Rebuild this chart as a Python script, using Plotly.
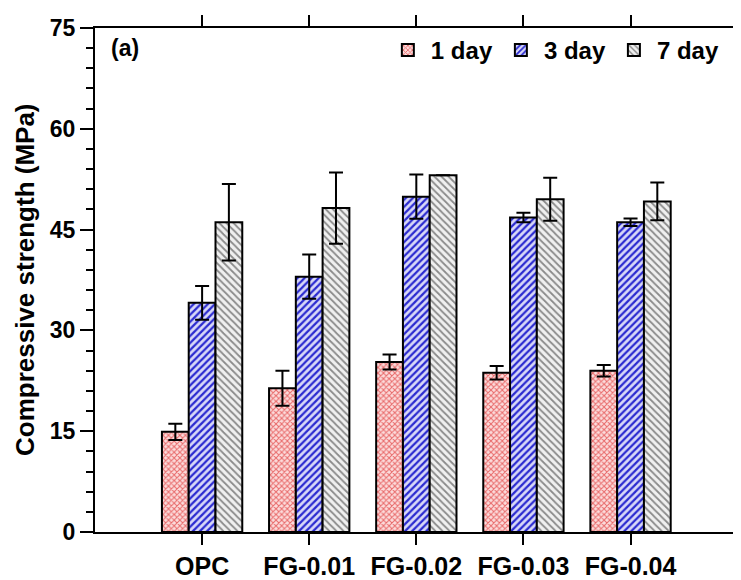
import plotly.graph_objects as go

categories = ["OPC", "FG-0.01", "FG-0.02", "FG-0.03", "FG-0.04"]
day1 = [14.9, 21.4, 25.3, 23.7, 24.0]
day1_err = [1.2, 2.6, 1.1, 1.0, 0.85]
day3 = [34.1, 38.0, 49.9, 46.8, 46.1]
day3_err = [2.5, 3.3, 3.3, 0.7, 0.55]
day7 = [46.1, 48.2, 53.1, 49.5, 49.2]
day7_err = [5.7, 5.3, 0.0, 3.2, 2.8]
series_names = ["1 day", "3 day", "7 day"]

FONT = "Liberation Sans, Arial, sans-serif"

styles = [
    dict(shape="x", fg="#e86a6a", bg="#fcdcdc", size=4, sol=0.45),
    dict(shape="/", fg="#2a2ad0", bg="#d8d8f8", size=5, sol=0.45),
    dict(shape="\\", fg="#8a8a8a", bg="#f0f0f0", size=5, sol=0.35),
]

fig = go.Figure()
for name, vals, errs, st in zip(series_names, [day1, day3, day7],
                                [day1_err, day3_err, day7_err], styles):
    fig.add_trace(go.Bar(
        x=categories, y=vals, name="<b>" + name + "</b>",
        marker=dict(
            color=st["bg"],
            line=dict(color="black", width=2),
            pattern=dict(shape=st["shape"], fgcolor=st["fg"], bgcolor=st["bg"],
                         size=st["size"], solidity=st["sol"], fillmode="replace"),
        ),
        error_y=dict(type="data", array=errs, visible=True, color="black",
                     thickness=2, width=7),
    ))

fig.update_layout(
    width=741, height=580,
    margin=dict(l=87, r=6, t=20, b=56, autoexpand=False),
    paper_bgcolor="white", plot_bgcolor="white",
    barmode="group", bargap=0.25, bargroupgap=0,
    font=dict(family=FONT, size=20, color="black"),
    legend=dict(orientation="h", x=0.972, xanchor="right", y=1.0, yanchor="top",
                bgcolor="rgba(0,0,0,0)", font=dict(size=24, family=FONT),
                itemsizing="constant", traceorder="normal", itemwidth=36,
                tracegroupgap=0),
    showlegend=True,
)

fig.update_xaxes(
    range=[-1, 5.05], showline=True, linecolor="black", linewidth=2, mirror="ticks",
    ticks="outside", ticklen=11, tickwidth=2, tickcolor="black",
    tickfont=dict(size=25, family=FONT), showgrid=False, zeroline=False,
    tickprefix="<b>", ticksuffix="</b>", automargin=False,
)
fig.update_yaxes(
    range=[0, 75], dtick=15, tick0=0, showline=True, linecolor="black", linewidth=2,
    mirror="ticks", ticks="outside", ticklen=13, tickwidth=2, tickcolor="black",
    minor=dict(dtick=3, ticks="outside", ticklen=7, tickwidth=2, tickcolor="black"),
    tickfont=dict(size=23, family=FONT), showgrid=False, zeroline=False,
    tickprefix="<b>", ticksuffix="</b>", automargin=False,
)

fig.add_annotation(text="<b>Compressive strength (MPa)</b>", xref="paper", yref="paper",
                   x=0, xshift=-70, y=0.5, xanchor="center", yanchor="middle",
                   textangle=-90, showarrow=False, font=dict(size=26, family=FONT))

fig.add_annotation(text="<b>(a)</b>", xref="paper", yref="paper", x=0.022, y=0.99,
                   xanchor="left", yanchor="top", showarrow=False,
                   font=dict(size=23, family=FONT))

fig.write_html("out.html")
